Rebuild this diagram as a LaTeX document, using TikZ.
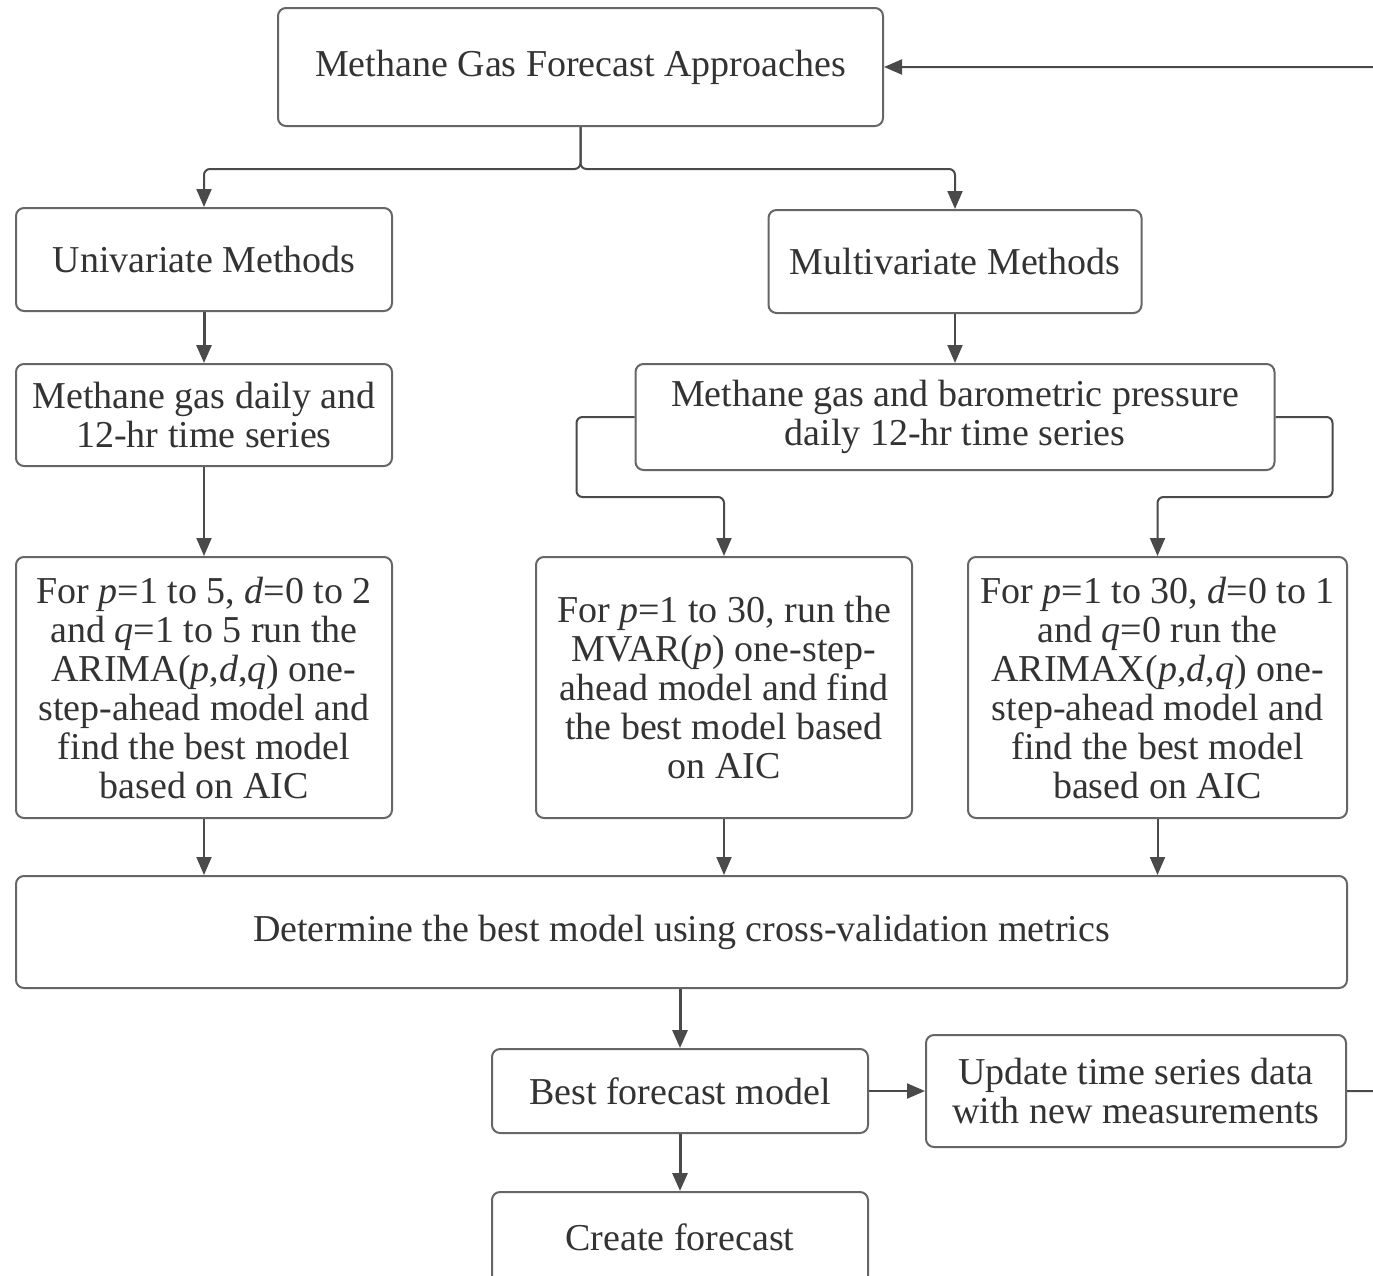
\documentclass[tikz,border=0pt]{standalone}
\usepackage{fontspec}
\setmainfont{Liberation Serif}
\usetikzlibrary{arrows.meta,calc}
\definecolor{bordc}{HTML}{666666}
\definecolor{linec}{HTML}{4A4A4A}
\definecolor{txtc}{HTML}{333333}
\newcommand\boxfont{\fontsize{38}{39}\selectfont}
\tikzset{
  fbox/.style={draw=bordc, line width=2pt, rounded corners=8pt, inner sep=0pt,
    align=center, text=txtc, font=\boxfont, fill=white},
  conn/.style={draw=linec, line width=2pt, rounded corners=6pt,
    -{Triangle[length=18pt,width=15pt]}},
  thick conn/.style={conn, line width=3pt}
}
\begin{document}
\begin{tikzpicture}[x=1pt,y=-1pt]
\useasboundingbox (0,0) rectangle (1373,1275);
\clip (0,0) rectangle (1373,1275);
\fill[white] (0,0) rectangle (1373,1275);

\node[fbox, minimum width=605pt, minimum height=118pt] (top) at (580.5,67) {Methane Gas Forecast Approaches};
\node[fbox, minimum width=376pt, minimum height=103pt] (uni) at (204,259.5) {Univariate Methods};
\node[fbox, minimum width=373pt, minimum height=103pt] (multi) at (955,261.5) {Multivariate Methods};
\node[fbox, minimum width=376pt, minimum height=102pt] (mdaily) at (204,415) {Methane gas daily and\\12-hr time series};
\node[fbox, minimum width=639pt, minimum height=106pt] (mbaro) at (955,417) {Methane gas and barometric pressure\\daily 12-hr time series};
\node[fbox, minimum width=376pt, minimum height=261pt] (arima) at (204,687.5)
  {For \textit{p}=1 to 5, \textit{d}=0 to 2\\and \textit{q}=1 to 5 run the\\ARIMA(\textit{p},\textit{d},\textit{q}) one-\\step-ahead model and\\find the best model\\based on AIC};
\node[fbox, minimum width=376pt, minimum height=261pt] (mvar) at (724,687.5)
  {For \textit{p}=1 to 30, run the\\MVAR(\textit{p}) one-step-\\ahead model and find\\the best model based\\on AIC};
\node[fbox, minimum width=379pt, minimum height=261pt] (arimax) at (1157.5,687.5)
  {For \textit{p}=1 to 30, \textit{d}=0 to 1\\and \textit{q}=0 run the\\ARIMAX(\textit{p},\textit{d},\textit{q}) one-\\step-ahead model and\\find the best model\\based on AIC};
\node[fbox, minimum width=1331pt, minimum height=112pt] (det) at (681.5,932) {Determine the best model using cross-validation metrics};
\node[fbox, minimum width=376pt, minimum height=84pt] (best) at (680,1091) {Best forecast model};
\node[fbox, minimum width=420pt, minimum height=112pt] (upd) at (1136,1091) {Update time series data\\with new measurements};
\node[fbox, minimum width=376pt, minimum height=112pt, text depth=0pt] (create) at (680,1248) {\raisebox{22pt}{Create forecast}};

% connectors
\draw[conn] (top.south) -- ++(0,42) -| (uni.north);
\draw[conn] (top.south) -- ++(0,42) -| (multi.north);
\draw[thick conn] (uni.south) -- (mdaily.north);
\draw[conn] (multi.south) -- (mbaro.north);
\draw[conn] (mdaily.south) -- (arima.north);
\draw[conn] (mbaro.west) -- ++(-58,0) |- ($(mvar.north)+(0,-59)$) -- (mvar.north);
\draw[conn] (mbaro.east) -- ++(57,0) |- ($(arimax.north)+(0,-59)$) -- (arimax.north);
\draw[conn] (arima.south) -- (arima.south |- det.north);
\draw[conn] (mvar.south) -- (mvar.south |- det.north);
\draw[conn] (arimax.south) -- (arimax.south |- det.north);
\draw[thick conn] (best.north |- det.south) -- (best.north);
\draw[thick conn] (best.south) -- (create.north);
\draw[conn] (best.east) -- (upd.west);
\draw[conn] (upd.east) -- ++(70,0) |- (top.east);
\end{tikzpicture}
\end{document}
